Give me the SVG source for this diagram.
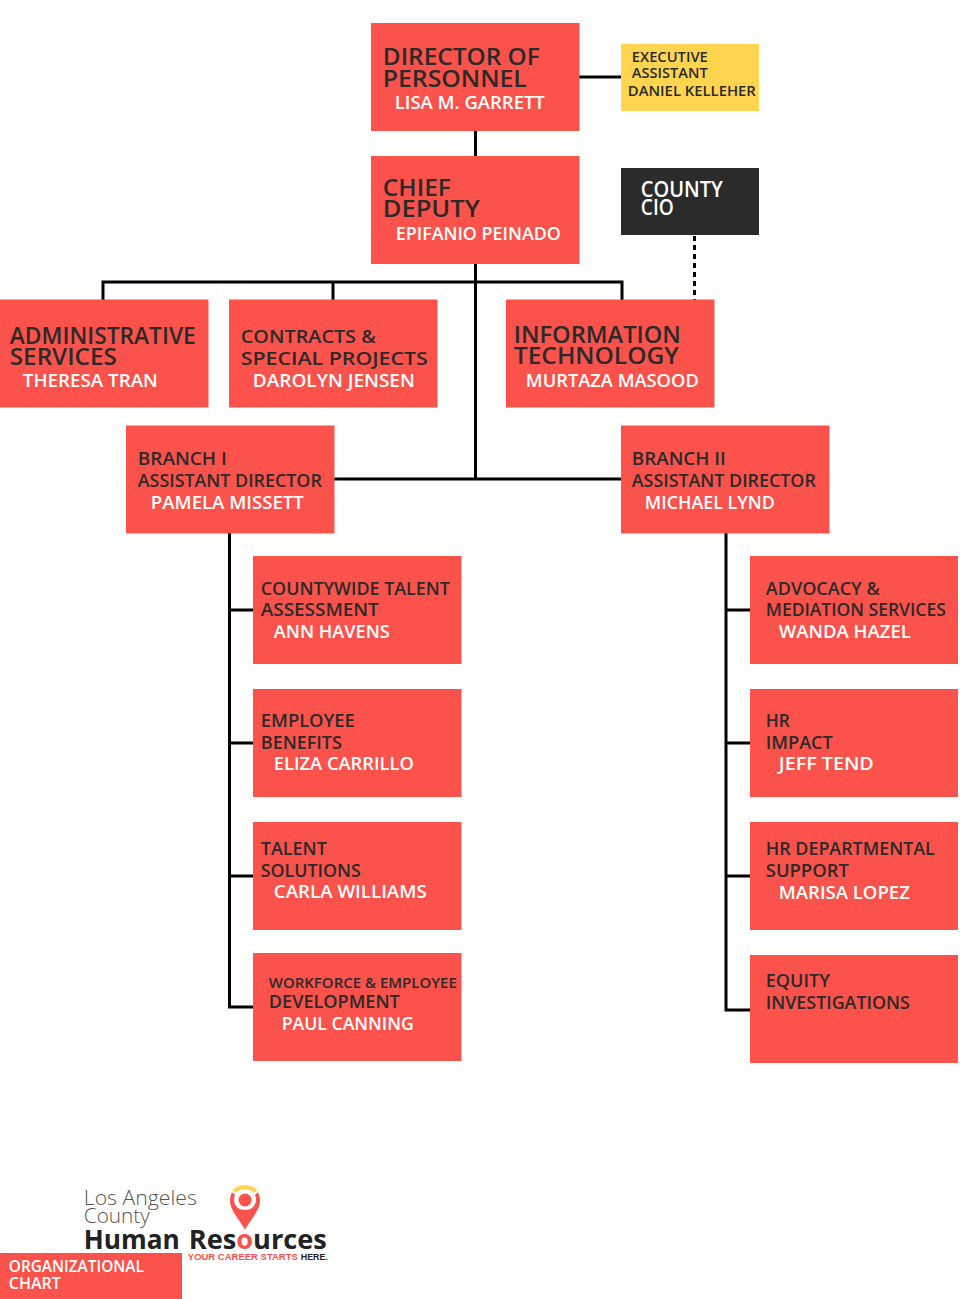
<svg xmlns="http://www.w3.org/2000/svg" width="960" height="1299" viewBox="0 0 960 1299">
<style>
text{font-family:"Open Sans","Liberation Sans",sans-serif;font-weight:600;fill:#2a2a2a;letter-spacing:0;transform:translate(-.2px,.2px)}
.b{fill:#fb524b}
.h{font-size:23px}
.m{font-size:18.500px}
.w{font-size:18px;fill:#fff}
.s{font-size:14.500px}
.t{font-size:15px}
.c{fill:none;stroke:#000;stroke-width:3}
</style>
<rect width="960" height="1299" fill="#fff"/>
<g id="connectors">
<path class="c" d="M475.5 131V479M579 77H621M103 300V282H622V300M333 282V300M334 479H621M229.500 533V1007H253M229.500 610H253M229.500 743H253M229.500 876H253M726 533V1010H750M726 610H750M726 743H750M726 876H750"/>
<path class="c" d="M694.500 236V300" stroke-dasharray="5 4"/>
</g>
<g id="director"><rect class="b" x="371" y="23" width="208.500" height="108"/>
<text class="h" x="383" y="65" textLength="157" lengthAdjust="spacingAndGlyphs">DIRECTOR OF</text>
<text class="h" x="383" y="87" textLength="144" lengthAdjust="spacingAndGlyphs">PERSONNEL</text>
<text class="w" x="395" y="109" textLength="150" lengthAdjust="spacingAndGlyphs">LISA M. GARRETT</text></g>
<g id="assistant"><rect x="621" y="44" width="138" height="67" fill="#ffd54f"/>
<text class="s" x="632" y="62" textLength="76" lengthAdjust="spacingAndGlyphs">EXECUTIVE</text>
<text class="s" x="632" y="78" textLength="76" lengthAdjust="spacingAndGlyphs">ASSISTANT</text>
<text class="s" x="628" y="96" textLength="128" lengthAdjust="spacingAndGlyphs">DANIEL KELLEHER</text></g>
<g id="chief"><rect class="b" x="371" y="156" width="208.500" height="108"/>
<text class="h" x="383" y="196" textLength="68" lengthAdjust="spacingAndGlyphs">CHIEF</text>
<text class="h" x="383" y="217" textLength="97" lengthAdjust="spacingAndGlyphs">DEPUTY</text>
<text class="w" x="396" y="240" textLength="165" lengthAdjust="spacingAndGlyphs">EPIFANIO PEINADO</text></g>
<g id="cio"><rect x="621" y="168" width="138" height="67" fill="#2b2b2b"/>
<text x="641" y="197" textLength="82" lengthAdjust="spacingAndGlyphs" style="fill:#fff;font-size:21px">COUNTY</text>
<text x="641" y="215" textLength="33" lengthAdjust="spacingAndGlyphs" style="fill:#fff;font-size:21px">CIO</text></g>
<g id="admin"><rect class="b" x="0" y="299.500" width="208.500" height="108"/>
<text class="h" x="10" y="344" textLength="186" lengthAdjust="spacingAndGlyphs">ADMINISTRATIVE</text>
<text class="h" x="10" y="365" textLength="107" lengthAdjust="spacingAndGlyphs">SERVICES</text>
<text class="w" x="23" y="387" textLength="135" lengthAdjust="spacingAndGlyphs">THERESA TRAN</text></g>
<g id="contracts"><rect class="b" x="229" y="299.500" width="208.500" height="108"/>
<text class="m" x="241" y="343" textLength="135" lengthAdjust="spacingAndGlyphs">CONTRACTS &amp;</text>
<text class="m" x="241" y="365" textLength="187" lengthAdjust="spacingAndGlyphs">SPECIAL PROJECTS</text>
<text class="w" x="253" y="387" textLength="162" lengthAdjust="spacingAndGlyphs">DAROLYN JENSEN</text></g>
<g id="it"><rect class="b" x="506" y="299.500" width="208.500" height="108"/>
<text class="h" x="514" y="343" textLength="167" lengthAdjust="spacingAndGlyphs">INFORMATION</text>
<text class="h" x="514" y="364" textLength="165" lengthAdjust="spacingAndGlyphs">TECHNOLOGY</text>
<text class="w" x="526" y="387" textLength="173" lengthAdjust="spacingAndGlyphs">MURTAZA MASOOD</text></g>
<g id="branch1"><rect class="b" x="126" y="425.500" width="208.500" height="108"/>
<text class="m" x="138" y="465" textLength="89" lengthAdjust="spacingAndGlyphs">BRANCH I</text>
<text class="m" x="138" y="487" textLength="184" lengthAdjust="spacingAndGlyphs">ASSISTANT DIRECTOR</text>
<text class="w" x="151" y="509" textLength="153" lengthAdjust="spacingAndGlyphs">PAMELA MISSETT</text></g>
<g id="branch2"><rect class="b" x="621" y="425.500" width="208.500" height="108"/>
<text class="m" x="632" y="465" textLength="94" lengthAdjust="spacingAndGlyphs">BRANCH II</text>
<text class="m" x="632" y="487" textLength="184" lengthAdjust="spacingAndGlyphs">ASSISTANT DIRECTOR</text>
<text class="w" x="645" y="509" textLength="130" lengthAdjust="spacingAndGlyphs">MICHAEL LYND</text></g>
<g id="talent-assessment"><rect class="b" x="253" y="556" width="208.500" height="108"/>
<text class="m" x="261" y="595" textLength="189" lengthAdjust="spacingAndGlyphs">COUNTYWIDE TALENT</text>
<text class="m" x="261" y="616" textLength="118" lengthAdjust="spacingAndGlyphs">ASSESSMENT</text>
<text class="w" x="274" y="638" textLength="116" lengthAdjust="spacingAndGlyphs">ANN HAVENS</text></g>
<g id="benefits"><rect class="b" x="253" y="689" width="208.500" height="108"/>
<text class="m" x="261" y="727" textLength="94" lengthAdjust="spacingAndGlyphs">EMPLOYEE</text>
<text class="m" x="261" y="749" textLength="81" lengthAdjust="spacingAndGlyphs">BENEFITS</text>
<text class="w" x="274" y="770" textLength="140" lengthAdjust="spacingAndGlyphs">ELIZA CARRILLO</text></g>
<g id="talent-solutions"><rect class="b" x="253" y="822" width="208.500" height="108"/>
<text class="m" x="261" y="855" textLength="66" lengthAdjust="spacingAndGlyphs">TALENT</text>
<text class="m" x="261" y="877" textLength="100" lengthAdjust="spacingAndGlyphs">SOLUTIONS</text>
<text class="w" x="274" y="898" textLength="153" lengthAdjust="spacingAndGlyphs">CARLA WILLIAMS</text></g>
<g id="workforce"><rect class="b" x="253" y="953" width="208.500" height="108"/>
<text class="t" x="269" y="988" textLength="188" lengthAdjust="spacingAndGlyphs">WORKFORCE &amp; EMPLOYEE</text>
<text class="m" x="269" y="1008" textLength="131" lengthAdjust="spacingAndGlyphs">DEVELOPMENT</text>
<text class="w" x="282" y="1030" textLength="132" lengthAdjust="spacingAndGlyphs">PAUL CANNING</text></g>
<g id="advocacy"><rect class="b" x="750" y="556" width="208" height="108"/>
<text class="m" x="766" y="595" textLength="114" lengthAdjust="spacingAndGlyphs">ADVOCACY &amp;</text>
<text class="m" x="766" y="616" textLength="180" lengthAdjust="spacingAndGlyphs">MEDIATION SERVICES</text>
<text class="w" x="779" y="638" textLength="132" lengthAdjust="spacingAndGlyphs">WANDA HAZEL</text></g>
<g id="impact"><rect class="b" x="750" y="689" width="208" height="108"/>
<text class="m" x="766" y="727" textLength="24" lengthAdjust="spacingAndGlyphs">HR</text>
<text class="m" x="766" y="749" textLength="67" lengthAdjust="spacingAndGlyphs">IMPACT</text>
<text class="w" x="779" y="770" textLength="95" lengthAdjust="spacingAndGlyphs">JEFF TEND</text></g>
<g id="departmental"><rect class="b" x="750" y="822" width="208" height="108"/>
<text class="m" x="766" y="855" textLength="169" lengthAdjust="spacingAndGlyphs">HR DEPARTMENTAL</text>
<text class="m" x="766" y="877" textLength="83" lengthAdjust="spacingAndGlyphs">SUPPORT</text>
<text class="w" x="779" y="899" textLength="131" lengthAdjust="spacingAndGlyphs">MARISA LOPEZ</text></g>
<g id="equity"><rect class="b" x="750" y="955" width="208" height="108"/>
<text class="m" x="766" y="987" textLength="64" lengthAdjust="spacingAndGlyphs">EQUITY</text>
<text class="m" x="766" y="1009" textLength="144" lengthAdjust="spacingAndGlyphs">INVESTIGATIONS</text></g>
<g id="logo">
<path d="M232.500 1190.500C237 1183.500 253 1183.500 257.500 1190.500L254 1192.500C250 1188 240 1188 236 1192.500Z" fill="#ffd54f"/>
<path d="M245 1229.500C239 1219 230 1210 230 1201C230 1198 230.500 1195 232 1192.500L235 1194.500C232 1202 236 1210 245 1210C254 1210 258 1202 255 1194.500L258 1192.500C259.500 1195 260 1198 260 1201C260 1210 251 1219 245 1229.500Z" class="b"/>
<circle class="b" cx="245" cy="1200" r="6.500"/>
<text x="84" y="1204.500" textLength="113" lengthAdjust="spacingAndGlyphs" style="font-size:21px;font-weight:300;fill:#555">Los Angeles</text>
<text x="84" y="1223" textLength="66" lengthAdjust="spacingAndGlyphs" style="font-size:21px;font-weight:300;fill:#555">County</text>
<text x="84" y="1248.500" textLength="96" lengthAdjust="spacingAndGlyphs" style="font-size:27px;font-weight:700;fill:#222">Human</text>
<text x="189" y="1248.500" textLength="138" lengthAdjust="spacingAndGlyphs" style="font-size:27px;font-weight:700;fill:#222">Res<tspan style="fill:#fb524b">o</tspan>urces</text>
<text x="188" y="1259.500" textLength="110" lengthAdjust="spacingAndGlyphs" style="font-family:'Liberation Sans',sans-serif;font-size:8.500px;font-weight:700;fill:#fb524b">YOUR  CAREER STARTS</text>
<text x="301" y="1259.500" textLength="27" lengthAdjust="spacingAndGlyphs" style="font-family:'Liberation Sans',sans-serif;font-size:8.500px;font-weight:700;fill:#222">HERE.</text>
</g>
<g id="title"><rect class="b" x="0" y="1253" width="182" height="46"/>
<text x="9" y="1272" textLength="135" lengthAdjust="spacingAndGlyphs" style="font-size:15.500px;fill:#fff">ORGANIZATIONAL</text>
<text x="9" y="1289" textLength="52" lengthAdjust="spacingAndGlyphs" style="font-size:15.500px;fill:#fff">CHART</text></g>
</svg>
